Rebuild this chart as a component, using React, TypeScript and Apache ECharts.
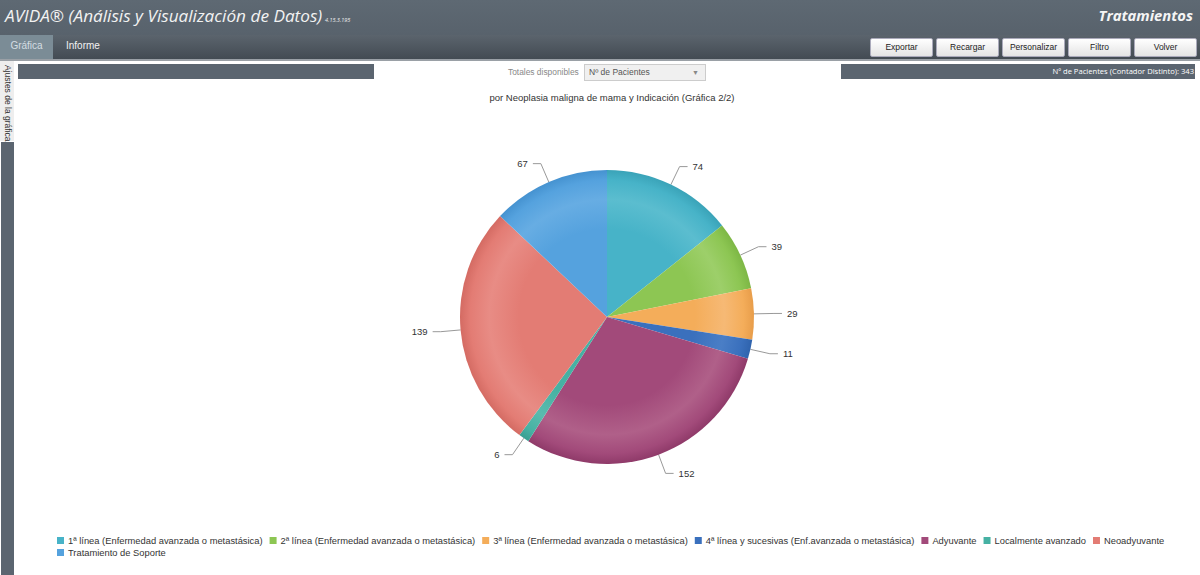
import React, { useEffect, useRef } from "react";
import * as echarts from "echarts";

const categories = [
  "1ª línea (Enfermedad avanzada o metastásica)",
  "2ª línea (Enfermedad avanzada o metastásica)",
  "3ª línea (Enfermedad avanzada o metastásica)",
  "4ª línea y sucesivas (Enf.avanzada o metastásica)",
  "Adyuvante",
  "Localmente avanzado",
  "Neoadyuvante",
  "Tratamiento de Soporte",
];
const values = [74, 39, 29, 11, 152, 6, 139, 67];
const colors = ["#47b3c8", "#8dc653", "#f4ad5a", "#3a70bd", "#a24a7a", "#46b1a3", "#e37c74", "#55a2de"];
const lighter = ["#5bbdcf", "#9dcf6a", "#f6b975", "#4a7ec6", "#b06089", "#5abbae", "#e88c85", "#67ade3"];
const darker = ["#3aa3b8", "#7db745", "#e89d4a", "#2f63ad", "#8f3a69", "#389f92", "#d46b63", "#4592d0"];
const buttons = ["Exportar", "Recargar", "Personalizar", "Filtro", "Volver"];

const CX = 607;
const CY = 317;
const R = 147;

export default function App() {
  const ref = useRef<HTMLDivElement>(null);
  useEffect(() => {
    const chart = echarts.init(ref.current!, undefined, { renderer: "svg" });
    const data = categories.map((name, i) => ({
      name,
      value: values[i],
      itemStyle: {
        color: new echarts.graphic.RadialGradient(CX, CY, R, [
          { offset: 0, color: colors[i] },
          { offset: 0.6, color: colors[i] },
          { offset: 0.8, color: lighter[i] },
          { offset: 0.93, color: colors[i] },
          { offset: 1, color: darker[i] },
        ], true),
      },
    }));
    const font = "'Liberation Sans', Arial, sans-serif";
    chart.setOption({
      animation: false,
      color: colors,
      title: {
        text: "por Neoplasia maligna de mama y Indicación (Gráfica 2/2)",
        left: CX,
        textAlign: "center",
        top: 87,
        textStyle: { fontFamily: font, fontSize: 9.5, fontWeight: "normal", color: "#333" },
      },
      legend: {
        data: categories.map((name, i) => ({ name, itemStyle: { color: colors[i] } })),
        left: 57,
        top: 535,
        width: 1125,
        icon: "rect",
        itemWidth: 7,
        itemHeight: 7,
        itemGap: 1,
        padding: 0,
        textStyle: { fontFamily: font, fontSize: 9.35, color: "#333", padding: [0, 6, 0, -1], lineHeight: 11 },
      },
      series: [
        {
          type: "pie",
          center: [CX, CY],
          radius: [0, R],
          startAngle: 90,
          clockwise: true,
          data,
          label: {
            show: true,
            formatter: "{c}",
            fontFamily: font,
            fontSize: 9.5,
            color: "#333",
          },
          labelLine: { show: true, length: 20, length2: 8, lineStyle: { color: "#999", width: 1 } },
          emphasis: { disabled: true },
        },
      ],
    });
    return () => chart.dispose();
  }, []);

  const seg = "'Open Sans', 'Noto Sans', sans-serif";
  const arial = "'Liberation Sans', Arial, sans-serif";
  return (
    <div style={{ position: "fixed", left: 0, top: 0, width: 1200, height: 575, background: "#fff", overflow: "hidden" }}>
      <div ref={ref} style={{ position: "absolute", left: 0, top: 0, width: 1200, height: 575 }} />
      {/* header */}
      <div style={{ position: "absolute", left: 0, top: 0, width: 1200, height: 35, background: "linear-gradient(#5e6973, #58626c)" }}>
        <span style={{ position: "absolute", left: 5, top: 4, fontFamily: seg, fontStyle: "italic", fontSize: 17.2, color: "#f2f2f2", whiteSpace: "nowrap" }}>
          AVIDA® (Análisis y Visualización de Datos)
        </span>
        <span style={{ position: "absolute", left: 325, top: 16, fontFamily: seg, fontStyle: "italic", fontSize: 5.5, color: "#eee" }}>4.15.3.195</span>
        <span style={{ position: "absolute", right: 7, top: 5, fontFamily: seg, fontStyle: "italic", fontWeight: "bold", fontSize: 14.8, color: "#f5f5f5" }}>
          Tratamientos
        </span>
      </div>
      <div style={{ position: "absolute", left: 0, top: 35, width: 1200, height: 24, background: "linear-gradient(#5b646d, #434b53)" }}>
        <div style={{ position: "absolute", left: 0, top: 0, width: 53, height: 24, background: "#7b8c96", color: "#d4dde2", fontFamily: arial, fontSize: 10, textAlign: "center", lineHeight: "22px" }}>Gráfica</div>
        <div style={{ position: "absolute", left: 66, top: 0, height: 24, color: "#f2f2f2", fontFamily: arial, fontSize: 10, lineHeight: "22px" }}>Informe</div>
        {buttons.map((b, i) => (
          <div key={b} style={{ position: "absolute", left: 870 + i * 66, top: 3, width: 63, height: 19, boxSizing: "border-box", border: "1px solid #aab", borderRadius: 2, background: "linear-gradient(#ffffff, #e4e4e4)", fontFamily: arial, fontSize: 8.5, color: "#222", textAlign: "center", lineHeight: "17px" }}>{b}</div>
        ))}
      </div>
      <div style={{ position: "absolute", left: 0, top: 59, width: 1200, height: 2, background: "#9aa0a6" }} />
      {/* left tab */}
      <div style={{ position: "absolute", left: 0, top: 61, width: 14, height: 80, background: "#eeeeee" }}>
        <div style={{ position: "absolute", left: 13, top: 4, transform: "rotate(90deg)", transformOrigin: "0 0", whiteSpace: "nowrap", fontFamily: arial, fontSize: 8.5, color: "#333" }}>Ajustes de la gráfica</div>
      </div>
      <div style={{ position: "absolute", left: 1, top: 142, width: 13, height: 433, background: "#5b6570" }} />
      {/* strips */}
      <div style={{ position: "absolute", left: 18, top: 64, width: 356, height: 15, background: "#5b6570" }} />
      <div style={{ position: "absolute", left: 841, top: 64, width: 354, height: 15, background: "#5b6570", color: "#fff", fontFamily: seg, fontSize: 7.6, textAlign: "right", lineHeight: "15px", boxSizing: "border-box", paddingRight: 1, whiteSpace: "nowrap" }}>
        Nº de Pacientes (Contador Distinto): 343
      </div>
      <div style={{ position: "absolute", left: 508, top: 67, fontFamily: arial, fontSize: 8.4, color: "#888", whiteSpace: "nowrap" }}>Totales disponibles</div>
      <div style={{ position: "absolute", left: 584, top: 64, width: 122, height: 17, boxSizing: "border-box", border: "1px solid #ccc", background: "#f0f0f0", fontFamily: arial, fontSize: 8.5, color: "#555", lineHeight: "15px", paddingLeft: 4 }}>
        Nº de Pacientes
        <span style={{ position: "absolute", right: 6, top: 0, fontSize: 7, color: "#888" }}>▼</span>
      </div>
    </div>
  );
}
